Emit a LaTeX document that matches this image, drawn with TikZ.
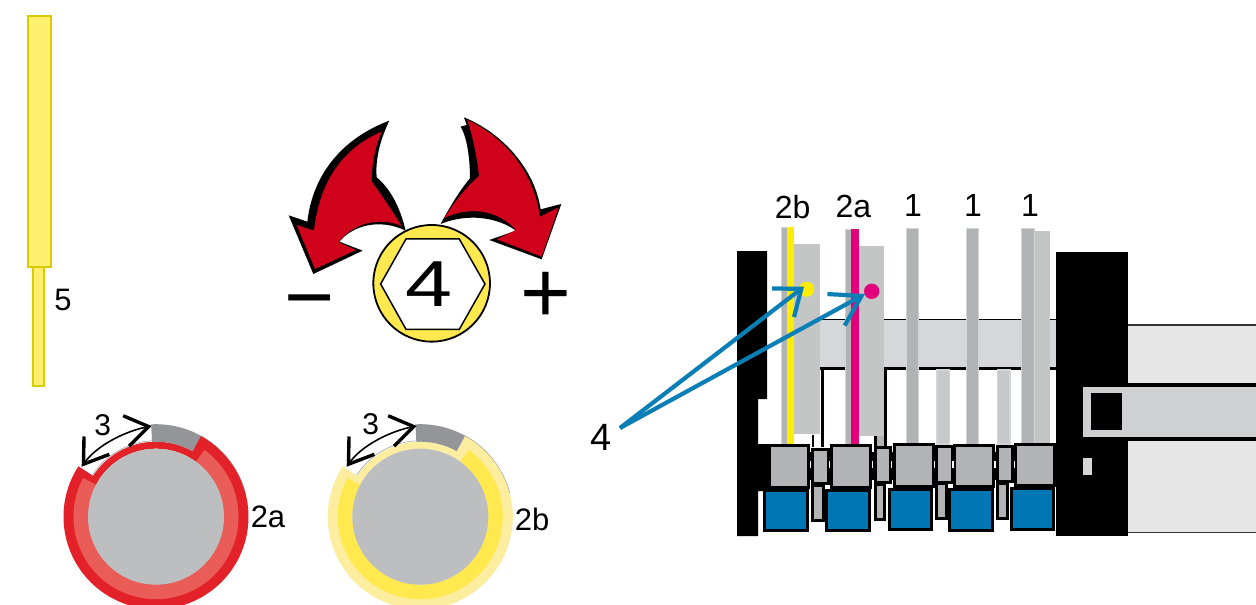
\documentclass[tikz,border=0pt]{standalone}
\usepackage{fontspec}
\setmainfont{Liberation Sans}
\usetikzlibrary{arrows.meta}
\definecolor{cYbar}{HTML}{FFF06E}
\definecolor{cYedge}{HTML}{DCCB00}
\definecolor{cRed}{HTML}{D0021B}
\definecolor{cRing}{HTML}{E32128}
\definecolor{cRingL}{HTML}{EA5C57}
\definecolor{cYel}{HTML}{FFE94F}
\definecolor{cYelL}{HTML}{FDEE9F}
\definecolor{cDisk}{HTML}{BCBEC0}
\definecolor{cPatch}{HTML}{939598}
\definecolor{cBar}{HTML}{B1B3B5}
\definecolor{cBarE}{HTML}{D3D4D5}
\definecolor{cSoft}{HTML}{C4C6C6}
\definecolor{cFaint}{HTML}{C6C8C9}
\definecolor{cRail}{HTML}{D6D7D9}
\definecolor{cPanel}{HTML}{E6E6E6}
\definecolor{cStrip}{HTML}{CFD0D2}
\definecolor{cBlue}{HTML}{0076B4}
\definecolor{cArrow}{HTML}{0A7FB5}
\definecolor{cPure}{HTML}{FFED00}
\definecolor{cMag}{HTML}{E2007A}
\newcommand{\ringsec}[5]{\fill[#1] (#2:#4) arc[start angle=#2,end angle=#3,radius=#4] -- (#3:#5) arc[start angle=#3,end angle=#2,radius=#5] -- cycle;}
\newcommand{\bbox}[5]{\fill[black] ({#2-3},{#3-3}) rectangle ({#4+3},{#5+3}); \fill[#1] (#2,#3) rectangle (#4,#5);}
\newcommand{\lamella}[5]{\fill[#1] (#2,#3) rectangle (#4,#5);}
\newcommand{\ringfig}[3]{%
  \ringsec{#1}{147}{421}{92.5}{68}
  \fill[#1,even odd rule] (0,0) circle[radius=75] (0,0) circle[radius=68];
  \ringsec{#2}{152}{414}{82.5}{68}
  \ringsec{cPatch}{61}{93}{92.5}{75}
  \fill[cDisk] (0,0) circle[radius=68];
  \draw[#3,line width=.5pt] (93:76) arc[start angle=93,end angle=147,radius=76];
  \draw[#3,line width=.4pt] (61:92.6) arc[start angle=61,end angle=15,radius=92.6];
}
\tikzset{
  lbl/.style={inner sep=0pt,font=\fontsize{32}{32}\selectfont,text=black},
  smalllbl/.style={inner sep=0pt,font=\fontsize{31}{31}\selectfont,text=black},
  blue arrow a/.style={draw=cArrow,line width=4.2pt,-{Straight Barb[length=23pt,width=36pt]}},
  blue arrow b/.style={draw=cArrow,line width=4.2pt,-{Straight Barb[length=29pt,width=36pt]}},
  turn arrow/.style={draw=black,line width=1.6pt,{Straight Barb[length=23pt,width=31pt,line width=3.4pt]}-{Straight Barb[length=23pt,width=31pt,line width=3.4pt]}},
  hexbolt/.style={draw=black,line width=1.5pt,fill=white,line join=miter},
  bar/.style={fill=cBar,draw=cBarE,line width=.7pt},
  soft/.style={fill=cSoft},
  faint/.style={fill=cFaint,draw=cBarE,line width=1.2pt},
}
\begin{document}
\begin{tikzpicture}[x=1pt,y=-1pt]
\useasboundingbox (0,0) rectangle (1256,605);
\fill[white] (0,0) rectangle (1256,605);

% hex key
\draw[draw=cYedge,fill=cYbar,line width=2pt] (27.5,15.5) rectangle (50.5,267);
\draw[draw=cYedge,fill=cYbar,line width=2pt] (32.5,267) rectangle (43.5,386);
\node[smalllbl] (l5) at (63,300) {5};

% red arrows and bolt
\begin{scope}[shift={(270,100)},x=.3333pt,y=-.3333pt]
\fill[black] (358,62) .. controls (230,110) and (130,210) .. (112,365) -- (56,346) -- (130,522) -- (278,452) -- (208,425) .. controls (250,375) and (330,355) .. (407,392) .. controls (390,320) and (360,265) .. (320,232) .. controls (315,170) and (335,110) .. (358,62) -- cycle;
\fill[cRed] (335,95) .. controls (230,140) and (150,230) .. (132,392) -- (80,375) -- (135,507) -- (258,450) -- (205,427) .. controls (250,368) and (330,350) .. (395,378) .. controls (365,330) and (335,285) .. (305,245) .. controls (305,180) and (320,130) .. (335,95) -- cycle;
\fill[black] (582,52) .. controls (700,100) and (795,210) .. (812,328) -- (874,312) -- (815,478) -- (658,420) -- (738,392) .. controls (680,350) and (590,340) .. (512,372) .. controls (540,320) and (570,270) .. (600,235) .. controls (600,170) and (590,110) .. (572,80) -- (590,75) -- cycle;
\fill[cRed] (592,60) .. controls (700,110) and (790,210) .. (810,350) -- (866,322) -- (815,470) -- (680,418) -- (738,390) .. controls (680,325) and (590,320) .. (522,355) .. controls (550,310) and (590,260) .. (627,228) .. controls (620,160) and (605,100) .. (592,60) -- cycle;
\fill[cYel,draw=black,line width=1.8pt] (485,550) circle[radius=175];
\draw[hexbolt] (332,552) -- (408,417) -- (568,417) -- (645,552) -- (568,688) -- (408,688) -- cycle;
\end{scope}
\node[inner sep=0pt] (bolt4) at (429,284) {\fontsize{65}{65}\selectfont\scalebox{1.3}[1]{4}};
\node[inner sep=0pt] (minus) at (310,311) {\fontsize{86}{86}\selectfont −};
\node[inner sep=0pt] (plus) at (545.5,297) {\fontsize{87}{87}\selectfont +};

% rings
\begin{scope}[shift={(156,516.7)},yscale=-1]
\ringfig{cRing}{cRingL}{cPatch}
\end{scope}
\begin{scope}[shift={(420.3,516.7)},yscale=-1]
\ringfig{cYelL}{cYel}{cPatch}
\end{scope}
\coordinate (ta) at (81.7,466.7); \coordinate (tb) at (151.7,426);
\draw[turn arrow] (ta) .. controls (97,445) and (126,431) .. (tb);
\coordinate (tc) at (346.7,466.7); \coordinate (td) at (416.7,426);
\draw[turn arrow] (tc) .. controls (362,445) and (391,431) .. (td);
\node[smalllbl,font=\fontsize{30}{30}\selectfont] (l3a) at (102.7,425) {3};
\node[smalllbl,font=\fontsize{30}{30}\selectfont] (l3b) at (370.7,424) {3};
\node[smalllbl] (l2a) at (268,517) {2a};
\node[smalllbl] (l2b) at (532,519) {2b};

% right-hand panels
\fill[cPanel] (1127,325) rectangle (1256,384);
\draw[black!80,line width=1.4pt] (1127,325) -- (1256,325);
\fill[cPanel] (1127,439) rectangle (1256,532);
\draw[black!80,line width=1.4pt] (1127,532.5) -- (1256,532.5);
\fill[black] (1127,383) rectangle (1256,441);

% rail
\fill[cRail] (820,320) rectangle (1056,368);
\fill[black] (820,318.5) rectangle (1056,320.3);
\fill[black] (820,367.3) rectangle (1056,370);

% faint and solid bars
\path[faint] (937,370) rectangle (949.5,444);
\path[faint] (997.5,370) rectangle (1010,444);
\lamella{soft}{794}{244.3}{820}{434.3}
\lamella{soft}{858.7}{245.7}{884}{436}
\lamella{soft}{1034}{231}{1049.5}{444}
\path[bar] (781.7,227.3) rectangle (787,444);
\fill[cPure] (786.7,227.3) rectangle (794,444);
\path[bar] (845.7,229) rectangle (851,444);
\fill[cMag] (850.7,229) rectangle (858.7,444);
\path[bar] (906,228.3) rectangle (918,444);
\path[bar] (966,228.3) rectangle (978.3,444);
\path[bar] (1021.7,228.3) rectangle (1034,444);

% black blocks
\fill[black] (737,251) -- (767,251) -- (767,399) -- (758,399) -- (758,444) -- (772,444) -- (772,491) -- (758,491) -- (758,536) -- (737,536) -- cycle;
\fill[black] (1056,251.7) rectangle (1127.7,536);
\fill[cStrip] (1082.7,386.7) rectangle (1256,436.7);
\fill[black] (1090.7,392.7) rectangle (1122,430);
\fill[cRail] (1083.3,458.3) rectangle (1091.7,475);

% vertical black lines and tabs
\fill[black] (820.7,369) rectangle (823.5,447);
\fill[black] (811.7,435) rectangle (814,447);
\fill[black] (884,369) rectangle (886.7,449);
\fill[black] (874.3,436) rectangle (876.7,449);
\fill[cBar] (876.7,436) rectangle (884,449);

% connectors between the clamps
\foreach \a/\b in {807/815,826/833,869/877,889/896,932/939,950/956,992/999,1011/1018}{
  \fill[black] (\a,452) rectangle (\b,480);
}
\fill[black] (1053,445) rectangle (1057,486);

% clamps
\bbox{cBar}{771}{447.3}{807.3}{486}
\bbox{cBlue}{765.7}{491.7}{806}{529.3}
\bbox{cBar}{814}{450.7}{826.7}{482.3}
\bbox{cBar}{814}{486.7}{821.7}{519.3}
\bbox{cBar}{832.7}{447.3}{869}{486}
\bbox{cBlue}{827.7}{491.7}{867.7}{529.3}
\bbox{cBar}{876.7}{449}{889.3}{481}
\bbox{cBar}{876.7}{485.7}{883.3}{518.3}
\bbox{cBar}{895.7}{446}{932}{485}
\bbox{cBlue}{891}{490.7}{930}{528.3}
\bbox{cBar}{938.3}{448.3}{950.7}{480.7}
\bbox{cBar}{938.3}{485}{945}{517.3}
\bbox{cBar}{955.7}{446.7}{992}{485}
\bbox{cBlue}{951}{491}{991}{529}
\bbox{cBar}{999}{448.3}{1011}{480}
\bbox{cBar}{999}{485}{1005.7}{517.3}
\bbox{cBar}{1017.3}{445.7}{1053.3}{484.3}
\bbox{cBlue}{1012.7}{490}{1052.3}{527.7}
\foreach \t in {810.5,829.8,872.7,891.7,934.8,953,995,1014.2}{
  \fill[white] ({\t-.6},461) rectangle ({\t+.6},468);
}

% dots and arrows
\node[circle,fill=cPure,inner sep=0pt,minimum size=15pt] (ydot) at (806.7,289.3) {};
\node[circle,fill=cMag,inner sep=0pt,minimum size=15.4pt] (mdot) at (871.7,291.3) {};
\node[lbl,font=\fontsize{38}{38}\selectfont] (l4) at (601,437) {4};
\coordinate (tail) at (620,428);
\coordinate (ytip) at (804,286.7);
\coordinate (mtip) at (865,294);
\draw[blue arrow a] (tail) -- (ytip);
\draw[blue arrow b] (tail) -- (mtip);

% top labels
\node[lbl] (t2b) at (792.7,206.7) {2b};
\node[lbl] (t2a) at (853.3,206.7) {2a};
\node[lbl] (t1a) at (913,205) {1};
\node[lbl] (t1b) at (973,205) {1};
\node[lbl] (t1c) at (1030,205) {1};
\end{tikzpicture}
\end{document}
